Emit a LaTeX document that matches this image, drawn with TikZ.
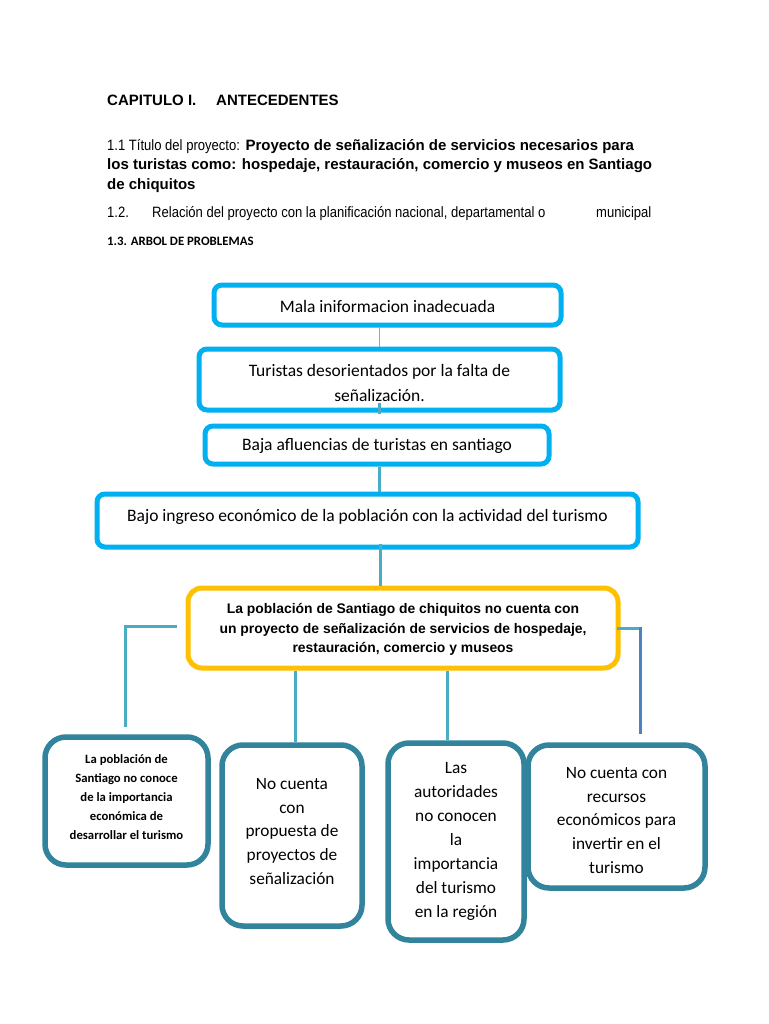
\documentclass[tikz,border=0pt]{standalone}
\usepackage{fontspec}
\setmainfont{Liberation Sans}
\newfontfamily\carl{Carlito}
\newfontfamily\narrowf[FakeStretch=0.87]{Liberation Sans}
\definecolor{cyanb}{HTML}{00B0F0}
\definecolor{yelb}{HTML}{FFC000}
\definecolor{tealb}{HTML}{31849B}
\definecolor{connc}{HTML}{4BACC6}
\definecolor{conng}{HTML}{8EA9C1}
\definecolor{connb}{HTML}{4F81BD}
\begin{document}
\begin{tikzpicture}[x=1pt,y=-1pt,
  hdr/.style={anchor=base west, inner sep=0pt, font=\fontsize{15}{18}\selectfont},
  hdrr/.style={anchor=base west, inner sep=0pt, font=\narrowf\fontsize{15}{18}\selectfont},
  ubox/.style={draw=cyanb, line width=5pt, rounded corners=8pt, fill=white, inner sep=0pt},
  ybox/.style={draw=yelb, line width=5pt, rounded corners=14pt, fill=white, inner sep=0pt},
  lbox/.style={draw=tealb, line width=5.5pt, rounded corners=21pt, fill=white, inner sep=0pt},
  utext/.style={inner sep=0pt, align=center, font=\carl\fontsize{17.5}{24.5}\selectfont},
  ytext/.style={inner sep=0pt, align=center, font=\bfseries\fontsize{13.9}{19.5}\selectfont},
  ltext/.style={inner sep=0pt, align=center, font=\carl\fontsize{17.3}{23.9}\selectfont},
  conn/.style={draw=connc, line width=3pt},
  conng/.style={draw=conng, line width=1pt}]
\useasboundingbox[fill=white] (0,0) rectangle (768,1024);
% header
\node[hdr] (h1) at (107,106) {\textbf{CAPITULO I.}};
\node[hdr] (h2) at (216,106) {\textbf{ANTECEDENTES}};
\node[hdr] (t1) at (107,151) {{\narrowf 1.1 Título del proyecto:} \textbf{Proyecto de señalización de servicios necesarios para}};
\node[hdr] (t2) at (107,170) {\textbf{los turistas como: hospedaje, restauración, comercio y museos en Santiago}};
\node[hdr] (t3) at (107,190) {\textbf{de chiquitos}};
\node[hdrr] (r1) at (107,218) {1.2.};
\node[hdrr] (r2) at (152,218) {Relación del proyecto con la planificación nacional, departamental o};
\node[hdrr] (r3) at (596,218) {municipal};
\node[anchor=base west, inner sep=0pt, font=\carl\bfseries\fontsize{12.8}{14}\selectfont] (a1) at (107,245) {1.3. ARBOL DE PROBLEMAS};
% upper boxes
\node[ubox, minimum width=347pt, minimum height=40pt] (b1) at (387.5,305) {};
\node[utext] (b1t) at ([yshift=-1pt]b1.center) {Mala iniformacion inadecuada};
\node[ubox, minimum width=361pt, minimum height=61pt] (b2) at (379.5,379.5) {};
\node[utext] (b2t) at ([yshift=-3.5pt]b2.center) {Turistas desorientados por la falta de\\señalización.};
\node[ubox, minimum width=344pt, minimum height=38pt] (b3) at (377,445) {};
\node[utext] (b3t) at ([yshift=-1pt]b3.center) {Baja afluencias de turistas en santiago};
\node[ubox, minimum width=541pt, minimum height=53pt] (b4) at (367.5,520.5) {};
\node[utext] (b4t) at ([yshift=4pt]b4.center) {Bajo ingreso económico de la población con la actividad del turismo};
\node[ybox, minimum width=430pt, minimum height=80pt] (b5) at (403,628) {};
\node[ytext] (b5t) at ([yshift=-1.5pt]b5.center) {La población de Santiago de chiquitos no cuenta con\\un proyecto de señalización de servicios de hospedaje,\\restauración, comercio y museos};
% lower boxes
\node[lbox, minimum width=163pt, minimum height=128pt] (b6) at (126.5,801) {};
\node[ltext, font=\carl\bfseries\fontsize{12.7}{19}\selectfont] (b6t) at ([yshift=3.5pt]b6.center) {La población de\\Santiago no conoce\\de la importancia\\económica de\\desarrollar el turismo};
\node[lbox, minimum width=140pt, minimum height=181pt] (b7) at (292,835.5) {};
\node[ltext] (b7t) at ([yshift=4pt]b7.center) {No cuenta\\con\\propuesta de\\proyectos de\\señalización};
\node[lbox, minimum width=136pt, minimum height=197pt] (b8) at (456,841.5) {};
\node[ltext] (b8t) at (b8.center) {Las\\autoridades\\no conocen\\la\\importancia\\del turismo\\en la región};
\node[lbox, minimum width=177pt, minimum height=143pt] (b9) at (616.5,816.5) {};
\node[ltext] (b9t) at ([yshift=-4pt]b9.center) {No cuenta con\\recursos\\económicos para\\invertir en el\\turismo};
% connectors
\draw[conng] (b1.south -| b2.north) -- (b2.north);
\draw[conn] ([yshift=10pt]b2.south) -- ([yshift=10pt]b2.south |- b3.north);
\draw[conn] (b2.south |- b3.south) -- (b2.south |- b4.north);
\draw[conn] ([xshift=1pt,yshift=6pt]b2.south |- b4.south) -- ([xshift=1pt]b2.south |- b5.north);
\draw[conn] ([xshift=-9pt,yshift=2pt]b5.west) -| ([xshift=-1.5pt,yshift=7pt]b6.north);
\draw[conn] ([xshift=-108pt]b5.south) -- ([xshift=-108pt]b5.south |- b7.north);
\draw[conn] ([xshift=44pt]b5.south) -- ([xshift=44pt]b5.south |- b8.north);
\draw[conn] ([xshift=-4pt]b5.east) -- ([xshift=20pt]b5.east);
\draw[draw=connb, line width=3pt] ([xshift=20pt,yshift=1.5pt]b5.east) -- ([xshift=20pt,yshift=8pt]b5.east |- b9.north);
\end{tikzpicture}
\end{document}
